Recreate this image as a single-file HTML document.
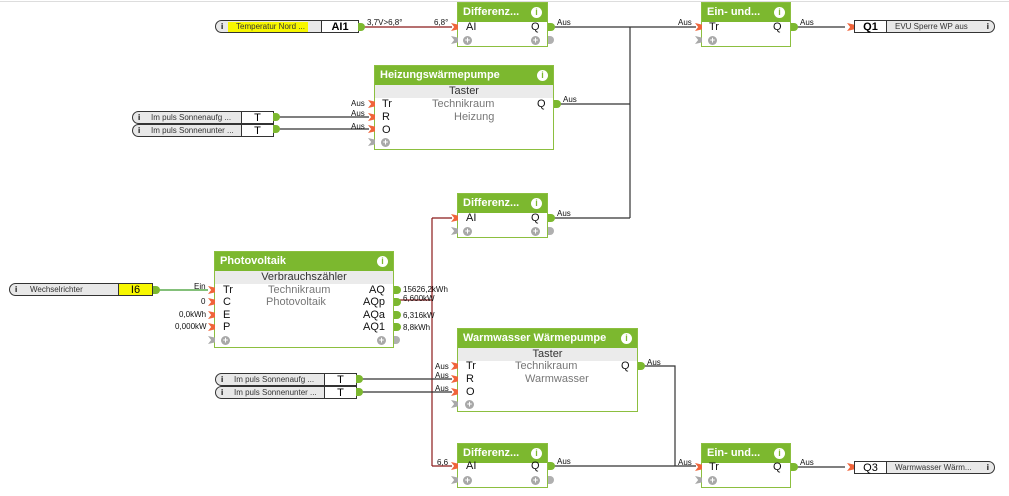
<!DOCTYPE html>
<html><head><meta charset="utf-8"><style>
body{margin:0;width:1009px;height:496px;background:#fff;position:relative;overflow:hidden;font-family:"Liberation Sans",sans-serif}
.a{position:absolute;white-space:nowrap}
.blk{position:absolute;border:1px solid #8cbf3f;background:#fff;box-sizing:border-box}
.hd{position:absolute;left:0;right:0;top:0;height:19px;background:#7cb82f;color:#fff;font-weight:bold;font-size:11px;line-height:19px;padding-left:5px}
.info{position:absolute;right:5px;top:4px;width:11px;height:11px;border-radius:50%;background:#fff;color:#7cb82f;font-size:9px;font-weight:bold;line-height:11px;text-align:center}
.gr{position:absolute;left:0;right:0;height:13px;background:#ebebeb;font-size:11px;line-height:13px;text-align:center;color:#333}
.in{position:absolute;width:7px;height:8px;background:#f0643a;clip-path:polygon(0 0,100% 20%,100% 80%,0 100%,45% 50%)}
.ig{position:absolute;width:7px;height:8px;background:#a8a8a8;clip-path:polygon(0 0,100% 20%,100% 80%,0 100%,45% 50%)}
.out{position:absolute;width:7px;height:8px;background:#7cb82f;border-radius:0 4px 4px 0}
.og{position:absolute;width:6px;height:8px;background:#b0b0b0;border-radius:0 4px 4px 0}
.pl{position:absolute;width:9px;height:9px;border-radius:50%;background:#a8a8a8;color:#fff;font-size:9px;line-height:9px;text-align:center;font-weight:bold}
.lb{position:absolute;font-size:11px;color:#111;line-height:12px}
.gt{position:absolute;font-size:11px;color:#777;line-height:12px}
.sm{position:absolute;font-size:8px;color:#111;line-height:9px;white-space:nowrap}
.io{position:absolute;height:13px;border:1px solid #333;border-radius:7px 0 0 7px;background:#e8e8e8;box-sizing:border-box}
.ior{position:absolute;height:13px;border:1px solid #333;border-radius:0 7px 7px 0;background:#e8e8e8;box-sizing:border-box}
.cell{position:absolute;top:-1px;height:13px;border:1px solid #333;background:#fff;font-size:11px;text-align:center;line-height:12px;box-sizing:border-box}
.ic{position:absolute;font-size:8px;font-weight:bold;top:1px}
.tx{position:absolute;font-size:8px;color:#333;top:1px;white-space:nowrap}
</style></head><body>
<div class="a" style="left:0;top:1px;width:1009px;height:1px;background:#ddd"></div>
<svg class="a" style="left:0;top:0" width="1009" height="496">
<g fill="none" stroke-width="1.2">
<path d="M358 27H452" stroke="#8b1a1a"/>
<path d="M547 27H696M630 27V218M553 104H630M547 218H630" stroke="#333"/>
<path d="M273 117H369M273 129H369" stroke="#333"/>
<path d="M153 290H208" stroke="#3a9a2a"/>
<path d="M393 300H432M432 218V466M432 218H452M432 466H452" stroke="#8b1a1a"/>
<path d="M356 379H452M356 392H452" stroke="#333"/>
<path d="M637 366H675V466M547 466H696M790 27H845M790 467H845" stroke="#333"/>
</g></svg>

<!-- AI1 input -->
<div class="io" style="left:215px;top:20px;width:144px">
<span class="ic" style="left:5px">i</span>
<div class="a" style="left:12px;top:1px;width:80px;height:10px;background:#f7f700"></div>
<span class="tx" style="left:20px">Temperatur Nord ...</span>
<div class="cell" style="left:105px;width:38px;font-weight:bold">AI1</div></div>
<div class="out" style="left:358px;top:23px"></div>
<div class="sm" style="left:367px;top:18px">3,7V&gt;6,8°</div>
<div class="sm" style="left:434px;top:18px">6,8°</div>

<!-- Diff1 -->
<div class="blk" style="left:457px;top:2px;width:91px;height:45px"><div class="hd">Differenz...</div><div class="info">i</div></div>
<div class="in" style="left:451px;top:23px"></div><div class="lb" style="left:466px;top:21px">AI</div><div class="lb" style="left:531px;top:21px">Q</div>
<div class="out" style="left:548px;top:23px"></div><div class="ig" style="left:451px;top:36px"></div><div class="pl" style="left:463px;top:36px">+</div><div class="pl" style="left:531px;top:36px">+</div><div class="og" style="left:548px;top:36px"></div>
<div class="sm" style="left:557px;top:18px">Aus</div>

<!-- Ein1 -->
<div class="blk" style="left:701px;top:2px;width:90px;height:45px"><div class="hd">Ein- und...</div><div class="info">i</div></div>
<div class="in" style="left:695px;top:23px"></div><div class="lb" style="left:709px;top:21px">Tr</div><div class="lb" style="left:773px;top:21px">Q</div>
<div class="out" style="left:791px;top:23px"></div><div class="ig" style="left:695px;top:36px"></div><div class="pl" style="left:708px;top:36px">+</div>
<div class="sm" style="left:678px;top:18px">Aus</div><div class="sm" style="left:800px;top:18px">Aus</div>

<!-- Q1 -->
<div class="in" style="left:847px;top:23px"></div>
<div class="ior" style="left:854px;top:20px;width:141px">
<div class="cell" style="left:-1px;width:33px;font-weight:bold">Q1</div>
<span class="tx" style="left:40px">EVU Sperre WP aus</span><span class="ic" style="right:5px">i</span></div>

<!-- Heizung -->
<div class="blk" style="left:374px;top:65px;width:180px;height:85px"><div class="hd">Heizungswärmepumpe</div><div class="info">i</div><div class="gr" style="top:19px">Taster</div></div>
<div class="gt" style="left:432px;top:98px">Technikraum</div><div class="gt" style="left:454px;top:111px">Heizung</div>
<div class="in" style="left:368px;top:100px"></div><div class="in" style="left:368px;top:113px"></div><div class="in" style="left:368px;top:125px"></div><div class="ig" style="left:368px;top:138px"></div>
<div class="lb" style="left:382px;top:98px">Tr</div><div class="lb" style="left:382px;top:111px">R</div><div class="lb" style="left:382px;top:124px">O</div><div class="pl" style="left:381px;top:138px">+</div>
<div class="lb" style="left:537px;top:98px">Q</div><div class="out" style="left:554px;top:100px"></div>
<div class="sm" style="left:351px;top:99px">Aus</div><div class="sm" style="left:351px;top:109px">Aus</div><div class="sm" style="left:351px;top:122px">Aus</div>
<div class="sm" style="left:563px;top:95px">Aus</div>

<!-- Impuls 1 -->
<div class="io" style="left:132px;top:111px;width:142px"><span class="ic" style="left:5px">i</span><span class="tx" style="left:18px">Im puls Sonnenaufg ...</span><div class="cell" style="left:108px;width:33px">T</div></div>
<div class="io" style="left:132px;top:124px;width:142px"><span class="ic" style="left:5px">i</span><span class="tx" style="left:18px">Im puls Sonnenunter ...</span><div class="cell" style="left:108px;width:33px">T</div></div>
<div class="out" style="left:273px;top:113px"></div><div class="out" style="left:273px;top:125px"></div>

<!-- Diff2 -->
<div class="blk" style="left:457px;top:193px;width:91px;height:45px"><div class="hd">Differenz...</div><div class="info">i</div></div>
<div class="in" style="left:451px;top:214px"></div><div class="lb" style="left:466px;top:212px">AI</div><div class="lb" style="left:531px;top:212px">Q</div>
<div class="out" style="left:548px;top:214px"></div><div class="ig" style="left:451px;top:227px"></div><div class="pl" style="left:463px;top:227px">+</div><div class="pl" style="left:531px;top:227px">+</div><div class="og" style="left:548px;top:227px"></div>
<div class="sm" style="left:557px;top:209px">Aus</div>

<!-- Wechselrichter -->
<div class="io" style="left:9px;top:283px;width:144px"><span class="ic" style="left:5px">i</span><span class="tx" style="left:20px">Wechselrichter</span><div class="cell" style="left:108px;width:35px;background:#f7f700">I6</div></div>
<div class="out" style="left:153px;top:286px"></div>

<!-- Photovoltaik -->
<div class="blk" style="left:214px;top:251px;width:180px;height:97px"><div class="hd">Photovoltaik</div><div class="info">i</div><div class="gr" style="top:19px">Verbrauchszähler</div></div>
<div class="gt" style="left:268px;top:284px">Technikraum</div><div class="gt" style="left:266px;top:296px">Photovoltaik</div>
<div class="in" style="left:208px;top:286px"></div><div class="in" style="left:208px;top:298px"></div><div class="in" style="left:208px;top:311px"></div><div class="in" style="left:208px;top:323px"></div><div class="ig" style="left:208px;top:336px"></div>
<div class="lb" style="left:223px;top:284px">Tr</div><div class="lb" style="left:223px;top:296px">C</div><div class="lb" style="left:223px;top:309px">E</div><div class="lb" style="left:223px;top:321px">P</div><div class="pl" style="left:221px;top:336px">+</div>
<div class="lb" style="left:369px;top:284px">AQ</div><div class="lb" style="left:363px;top:296px">AQp</div><div class="lb" style="left:363px;top:309px">AQa</div><div class="lb" style="left:363px;top:321px">AQ1</div><div class="pl" style="left:377px;top:336px">+</div>
<div class="out" style="left:394px;top:286px"></div><div class="out" style="left:394px;top:298px"></div><div class="out" style="left:394px;top:311px"></div><div class="out" style="left:394px;top:323px"></div><div class="og" style="left:394px;top:336px"></div>
<div class="sm" style="left:194px;top:282px">Ein</div><div class="sm" style="left:201px;top:297px">0</div><div class="sm" style="left:179px;top:310px">0,0kWh</div><div class="sm" style="left:175px;top:322px">0,000kW</div>
<div class="sm" style="left:403px;top:285px">15626,2kWh</div><div class="sm" style="left:403px;top:294px">6,600kW</div><div class="sm" style="left:403px;top:311px">6,316kW</div><div class="sm" style="left:403px;top:323px">8,8kWh</div>

<!-- Warmwasser -->
<div class="blk" style="left:457px;top:328px;width:181px;height:84px"><div class="hd">Warmwasser Wärmepumpe</div><div class="info">i</div><div class="gr" style="top:19px">Taster</div></div>
<div class="gt" style="left:515px;top:360px">Technikraum</div><div class="gt" style="left:525px;top:373px">Warmwasser</div>
<div class="in" style="left:451px;top:362px"></div><div class="in" style="left:451px;top:375px"></div><div class="in" style="left:451px;top:388px"></div><div class="ig" style="left:451px;top:400px"></div>
<div class="lb" style="left:466px;top:360px">Tr</div><div class="lb" style="left:466px;top:373px">R</div><div class="lb" style="left:466px;top:386px">O</div><div class="pl" style="left:465px;top:400px">+</div>
<div class="lb" style="left:621px;top:360px">Q</div><div class="out" style="left:638px;top:362px"></div>
<div class="sm" style="left:435px;top:362px">Aus</div><div class="sm" style="left:435px;top:371px">Aus</div><div class="sm" style="left:435px;top:384px">Aus</div>
<div class="sm" style="left:647px;top:358px">Aus</div>

<!-- Impuls 2 -->
<div class="io" style="left:215px;top:373px;width:142px"><span class="ic" style="left:5px">i</span><span class="tx" style="left:18px">Im puls Sonnenaufg ...</span><div class="cell" style="left:108px;width:33px">T</div></div>
<div class="io" style="left:215px;top:386px;width:142px"><span class="ic" style="left:5px">i</span><span class="tx" style="left:18px">Im puls Sonnenunter ...</span><div class="cell" style="left:108px;width:33px">T</div></div>
<div class="out" style="left:356px;top:375px"></div><div class="out" style="left:356px;top:388px"></div>

<!-- Diff3 -->
<div class="blk" style="left:457px;top:443px;width:91px;height:45px"><div class="hd">Differenz...</div><div class="info">i</div></div>
<div class="in" style="left:451px;top:462px"></div><div class="lb" style="left:466px;top:460px">AI</div><div class="lb" style="left:531px;top:460px">Q</div>
<div class="out" style="left:548px;top:462px"></div><div class="ig" style="left:451px;top:476px"></div><div class="pl" style="left:463px;top:476px">+</div><div class="pl" style="left:531px;top:476px">+</div><div class="og" style="left:548px;top:476px"></div>
<div class="sm" style="left:437px;top:458px">6,6</div><div class="sm" style="left:557px;top:457px">Aus</div>

<!-- Ein2 -->
<div class="blk" style="left:701px;top:443px;width:90px;height:45px"><div class="hd">Ein- und...</div><div class="info">i</div></div>
<div class="in" style="left:695px;top:463px"></div><div class="lb" style="left:709px;top:461px">Tr</div><div class="lb" style="left:773px;top:461px">Q</div>
<div class="out" style="left:791px;top:463px"></div><div class="ig" style="left:695px;top:476px"></div><div class="pl" style="left:708px;top:476px">+</div>
<div class="sm" style="left:678px;top:458px">Aus</div><div class="sm" style="left:800px;top:458px">Aus</div>

<!-- Q3 -->
<div class="in" style="left:847px;top:463px"></div>
<div class="ior" style="left:854px;top:461px;width:141px">
<div class="cell" style="left:-1px;width:33px">Q3</div>
<span class="tx" style="left:40px">Warmwasser Wärm...</span><span class="ic" style="right:5px">i</span></div>
</body></html>
